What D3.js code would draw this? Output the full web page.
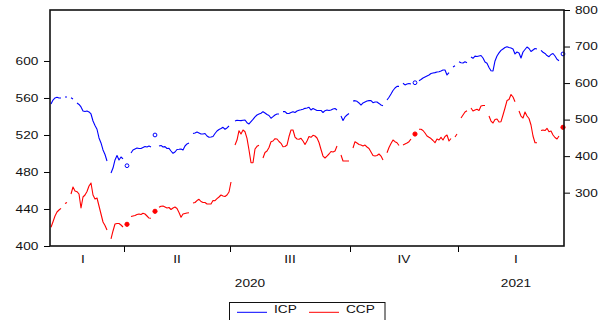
<!DOCTYPE html>
<html><head><meta charset="utf-8">
<script src="https://cdn.jsdelivr.net/npm/d3@7"></script>
<style>body{margin:0;background:#fff;} svg{display:block;}</style>
</head><body>
<svg id="c" width="607" height="320"></svg>
<script>
// ---- data (one value per observation, null = missing) ----
const icp = [
553.5,557.8,560,560.8,560,560,null,561.1,561.1,null,
560.2,558.9,null,554.6,553,550.3,545.9,545.4,545.9,544.9,
542.7,535.1,530.3,526.2,516.8,511.4,503.8,498.9,491.9,null,
478.9,484.3,493,497.8,493,496.2,494.1,null,486.8,null,
500.5,503.8,504.9,505.9,505.4,505.4,506.5,507.6,507,508.1,
507,null,520,null,508.1,508.7,507,507.4,505.4,505.6,
502.7,500.2,501.6,504.3,504.5,504.9,503.8,508.1,510.3,511.4,
null,521.6,522.2,523.2,522.2,521.1,521.1,521.6,518.9,517.5,
517.8,518.4,521.6,524.3,525.9,527,528.3,526.2,527.6,529.7,
null,null,535.1,536,535.7,535.5,535.9,536.2,533.3,531.9,
534.4,536.8,539.5,541.6,542.7,543.5,545.2,543.8,542.2,541.1,
538.1,539.8,541.6,542.7,542.7,null,545.2,545.2,543.2,543.2,
544.3,545.2,544.3,545.9,546.7,547.2,547.8,548.8,549.2,549.9,
547,548.6,547.6,546.5,546.5,546.5,544.3,546.3,547,546.5,
547,548.1,548.6,547,null,540.5,535.7,539.5,541.6,543.2,
null,556.8,557.1,556.4,554.6,552.4,554.6,555.7,556.8,557.1,
557.1,554.9,555.7,555.7,554.1,552.4,551.7,null,557.8,560.8,
564.3,568.1,570.8,572.6,572.5,null,575.9,574.1,575.1,575.7,
575.1,null,576.5,null,578.7,580,581.6,582.7,583.8,584.9,
586.5,587,587.4,588.1,588.4,589.2,590.3,590.3,584.9,587.4,
null,593.5,594.9,null,599.2,598.1,597.8,599.2,598.2,null,
604.3,602.9,605.2,604.9,605.4,605.9,603.2,598.9,597.5,593,
589.5,589.2,600,605.4,608.7,611.4,613,614.6,615.4,614.6,
614.1,613,607.6,609.7,608.7,603.2,609.7,612.4,615.1,613.5,
610.3,611.9,613.5,613,null,611.4,609.4,608.1,605.9,604.6,
607,608.1,605.4,601.8,600.3,null,607.6
];
const ccp = [
205.2,220.5,236.1,247.1,252.5,257.2,null,270.3,273.1,null,
296.3,315.5,304.5,302.6,296.3,258,288.1,293.6,303.2,318.2,
326.4,293.6,282.6,285.4,263.5,241.6,219.7,210.1,197.8,null,
173.2,195.1,214.2,215.6,215.6,211.5,206,null,213.4,null,
234.7,236.1,237.5,240.2,241.6,240.2,243.5,241.6,236.1,230.6,
229.8,null,249,null,259.9,262.9,263.5,260.7,258,259.4,
253.9,258,260.7,256.6,245.7,232.6,241.6,243,244.3,245.1,
null,271.7,273.1,278.5,281.8,275.8,273.1,273.1,269,269,
269,278.5,278,283.5,288.1,293.6,290.9,289.5,293.6,301.8,
329.2,null,430.4,444.1,469.6,460.5,471.5,466.8,448.8,416.8,
382,382,419.5,426.9,429.9,null,394.9,409.9,414,423.6,
439.5,441.4,447.7,446.9,440,435.1,425.8,426.3,430.4,453.7,
471.5,471.5,452.3,446.9,446,448.8,441.4,431.8,441.4,453.7,
451.5,457,455.1,449.6,437.3,418.1,400.3,394.9,400.3,405.8,
412.7,411.3,414,427.7,null,403.1,386.6,386.6,386.6,386.6,
null,422.2,439.5,435.9,431.8,430.4,427.7,430.4,425,420.9,
411.3,401.7,400.3,401.7,405.8,400.3,389.4,null,409.4,423.6,
434.5,444.1,439.5,436.7,429.1,null,430.4,433.2,435.9,439.5,
446.9,null,460.5,null,473.4,473.4,470.1,463.3,455.1,451.5,
448.2,442.8,436.7,446.9,444.1,451.5,444.1,453.7,457.8,441.4,
448.2,null,452.3,460.5,null,504.3,512.5,520.8,524.3,null,
531.7,523.5,526.2,528.2,524.9,537.2,538.5,538.5,null,509.8,
496.1,490.7,500.2,501.6,493.4,494.2,512.5,531.7,552.2,555,
568.7,561.8,549,null,523.5,509.8,504.3,520.8,509.8,503,
485.2,455.1,436.7,436.7,null,470.1,471.5,470.1,476.1,466.8,
468.8,457.8,451,446.9,455.1,null,478.9
];
const seriesNames = ["ICP", "CCP"];
const leftTicks = [400, 440, 480, 520, 560, 600];
const rightTicks = [300, 400, 500, 600, 700, 800];
const quarterLabels = ["I", "II", "III", "IV", "I"];
const quarterStart = [-4, 37, 90, 150, 204];   // observation index where each quarter begins
const quarterEnd = [36, 89, 149, 203, 261];
const yearLabels = ["2020", "2021"];
const yearStart = [-4, 204];
const yearEnd = [203, 261];

// ---- drawing ----
const colors = ["#0000ff", "#ff0000"];
const FONT = "'Liberation Sans', Arial, sans-serif";
const svg = d3.select("#c");
const L = 50, R = 564, T = 10, B = 246;

const x = d3.scaleLinear().domain([0, icp.length - 1]).range([51, 563]);
const yL = d3.scaleLinear().domain([400, 655.1]).range([B, T]);
const yR = d3.scaleLinear().domain([154, 800]).range([B, T]);

svg.append("defs").append("clipPath").attr("id", "clip")
  .append("rect").attr("x", L).attr("y", T).attr("width", R - L).attr("height", B - T);

function styleAxis(g, pad) {
  g.select(".domain").remove();
  g.selectAll(".tick line").attr("stroke", "#000").attr("stroke-width", 1);
  g.selectAll(".tick text")
    .attr("font-family", FONT).attr("font-size", "10.5px").attr("fill", "#111")
    .attr("transform", "scale(1.3,1)");
}

// left axis
const gl = svg.append("g").attr("transform", `translate(${L},0)`)
  .call(d3.axisLeft(yL).tickValues(leftTicks).tickSize(6).tickPadding(3).tickSizeOuter(0));
styleAxis(gl);
// right axis
const gr = svg.append("g").attr("transform", `translate(${R},0)`)
  .call(d3.axisRight(yR).tickValues(rightTicks).tickSize(6).tickPadding(2.5).tickSizeOuter(0));
styleAxis(gr);
// bottom axis: quarter boundary ticks
const gb = svg.append("g").attr("transform", `translate(0,${B})`)
  .call(d3.axisBottom(x).tickValues(quarterStart.slice(1).map(s => s - 0.5))
        .tickFormat("").tickSize(6).tickSizeOuter(0));
gb.select(".domain").remove();
gb.selectAll(".tick line").attr("stroke", "#000");

function label(xp, yp, s) {
  svg.append("text").attr("transform", `translate(${xp},${yp}) scale(1.3,1)`)
    .attr("text-anchor", "middle").attr("font-family", FONT)
    .attr("font-size", "10.5px").attr("fill", "#111").text(s);
}
quarterLabels.forEach((q, k) => label(x((quarterStart[k] + quarterEnd[k]) / 2), 263, q));
yearLabels.forEach((yv, k) => label(x((yearStart[k] + yearEnd[k]) / 2), 287, yv));

// series
const plot = svg.append("g").attr("clip-path", "url(#clip)");
[[icp, yL], [ccp, yR]].forEach(([data, ys], k) => {
  const line = d3.line().defined(d => d != null).x((d, i) => x(i)).y(d => ys(d));
  plot.append("path").datum(data).attr("fill", "none").attr("stroke", colors[k])
    .attr("stroke-width", 1.1).attr("stroke-linejoin", "round").attr("d", line);
  const iso = data.map((d, i) => ({d, i}))
    .filter(o => o.d != null && (o.i === 0 || data[o.i - 1] == null) && (o.i === data.length - 1 || data[o.i + 1] == null));
  svg.selectAll(null).data(iso).enter().append("circle")
    .attr("cx", o => x(o.i)).attr("cy", o => ys(o.d)).attr("r", k === 0 ? 1.9 : 2.1)
    .attr("fill", k === 0 ? "#fff" : colors[k]).attr("stroke", colors[k]).attr("stroke-width", 1);
});

// frame
svg.append("rect").attr("x", L).attr("y", T).attr("width", R - L).attr("height", B - T)
  .attr("fill", "none").attr("stroke", "#111").attr("stroke-width", 1.6);

// legend
const lg = svg.append("g");
lg.append("rect").attr("x", 229.5).attr("y", 302.5).attr("width", 155.5).attr("height", 30)
  .attr("fill", "#fff").attr("stroke", "#111").attr("stroke-width", 1);
const legX = [237, 309];
seriesNames.forEach((n, k) => {
  lg.append("line").attr("x1", legX[k]).attr("x2", legX[k] + 30).attr("y1", 312.3).attr("y2", 312.3)
    .attr("stroke", colors[k]).attr("stroke-width", 1);
  lg.append("text").attr("transform", `translate(${legX[k] + 37},313) scale(1.3,1)`)
    .attr("font-family", FONT).attr("font-size", "10.5px").attr("fill", "#111").text(n);
});
</script>
</body></html>
